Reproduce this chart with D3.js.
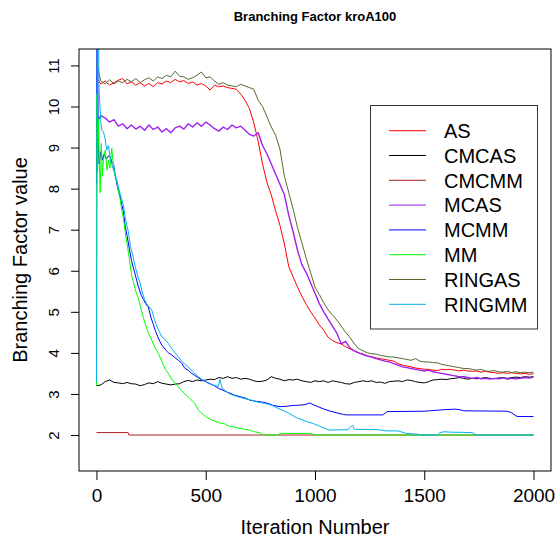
<!DOCTYPE html>
<html lang="en">
<head>
<meta charset="UTF-8">
<title>Branching Factor kroA100</title>
<script src="https://d3js.org/d3.v7.min.js"></script>
<style>
    body { margin: 0; background: #fff; }
    svg { font-family: "Liberation Sans", Arial, sans-serif; }
</style>
</head>
<body>
<svg id="chart" width="560" height="540"></svg>
<script>
    // Data
    const seriesNames = ['AS', 'CMCAS', 'CMCMM', 'MCAS', 'MCMM', 'MM', 'RINGAS', 'RINGMM'];
    const seriesColors = ['#ff0000', '#000000', '#b22222', '#a020f0', '#0000ff', '#00ff00', '#556b2f', '#00b2ee'];

    const xTicks = [0, 500, 1000, 1500, 2000];
    const yTicks = [2, 3, 4, 5, 6, 7, 8, 9, 10, 11];

    // sampling grid for the noisy series
    const iterGrid = [
        0, 20, 40, 60, 80, 100, 120, 140, 160, 180,
        200, 220, 240, 260, 280, 300, 320, 340, 360, 380,
        400, 420, 440, 460, 480, 500, 520, 540, 560, 580,
        600, 620, 640, 660, 680, 700, 720, 740, 760, 780,
        800, 820, 840, 860, 880, 900, 920, 940, 960, 980,
        1000, 1020, 1040, 1060, 1080, 1100, 1120, 1140, 1160, 1180,
        1200, 1220, 1240, 1260, 1280, 1300, 1320, 1340, 1360, 1380,
        1400, 1420, 1440, 1460, 1480, 1500, 1520, 1540, 1560, 1580,
        1600, 1620, 1640, 1660, 1680, 1700, 1720, 1740, 1760, 1780,
        1800, 1820, 1840, 1860, 1880, 1900, 1920, 1940, 1960, 1980,
        2000
    ];

    const asValues = [
        10.70, 10.55, 10.62, 10.52, 10.58, 10.64, 10.68, 10.55, 10.60, 10.52,
        10.58, 10.50, 10.56, 10.48, 10.58, 10.55, 10.62, 10.58, 10.66, 10.60,
        10.63, 10.56, 10.60, 10.52, 10.56, 10.50, 10.40, 10.52, 10.48, 10.50,
        10.46, 10.44, 10.42, 10.30, 10.15, 9.95, 9.60, 9.15, 8.60, 8.15,
        7.85, 7.45, 7.10, 6.65, 6.10, 5.85, 5.60, 5.38, 5.18, 5.00,
        4.85, 4.68, 4.55, 4.38, 4.30, 4.25, 4.22, 4.15, 4.10, 4.05,
        4.00, 3.97, 3.93, 3.90, 3.88, 3.86, 3.84, 3.82, 3.80, 3.74,
        3.70, 3.68, 3.66, 3.63, 3.62, 3.60, 3.60, 3.58, 3.57, 3.60,
        3.59, 3.60, 3.58, 3.56, 3.58, 3.56, 3.55, 3.56, 3.53, 3.55,
        3.53, 3.52, 3.50, 3.52, 3.50, 3.52, 3.50, 3.49, 3.50, 3.48,
        3.49
    ];

    const cmcasValues = [
        3.20, 3.22, 3.30, 3.34, 3.28, 3.27, 3.25, 3.28, 3.25, 3.24,
        3.20, 3.23, 3.27, 3.25, 3.30, 3.26, 3.24, 3.22, 3.24, 3.25,
        3.30, 3.33, 3.30, 3.34, 3.32, 3.34, 3.36, 3.35, 3.40, 3.38,
        3.42, 3.38, 3.40, 3.36, 3.38, 3.36, 3.32, 3.30, 3.31, 3.34,
        3.42, 3.38, 3.36, 3.32, 3.35, 3.34, 3.36, 3.32, 3.30, 3.28,
        3.32, 3.30, 3.32, 3.28, 3.32, 3.30, 3.28, 3.25, 3.24, 3.28,
        3.30, 3.32, 3.30, 3.32, 3.28, 3.29, 3.26, 3.30, 3.31, 3.32,
        3.30, 3.34, 3.33, 3.30, 3.28, 3.27, 3.30, 3.34, 3.35, 3.36,
        3.35, 3.37, 3.38, 3.40, 3.38, 3.36, 3.38, 3.37, 3.38, 3.40,
        3.38, 3.37, 3.39, 3.40, 3.38, 3.40, 3.41, 3.40, 3.42, 3.41,
        3.42
    ];

    const mcasValues = [
        9.60, 9.78, 9.72, 9.62, 9.68, 9.52, 9.58, 9.46, 9.55, 9.45,
        9.52, 9.42, 9.55, 9.44, 9.50, 9.38, 9.46, 9.36, 9.48, 9.52,
        9.45, 9.58, 9.50, 9.60, 9.52, 9.62, 9.55, 9.46, 9.40, 9.50,
        9.44, 9.55, 9.48, 9.52, 9.42, 9.32, 9.28, 9.36, 9.05, 8.85,
        8.60, 8.35, 8.10, 7.85, 7.35, 6.95, 6.50, 6.15, 5.95, 5.70,
        5.45, 5.20, 5.00, 4.82, 4.65, 4.48, 4.22, 4.28, 4.12, 4.05,
        4.00, 3.96, 3.92, 3.90, 3.86, 3.83, 3.80, 3.78, 3.74, 3.70,
        3.66, 3.64, 3.62, 3.60, 3.58, 3.56, 3.58, 3.54, 3.52, 3.50,
        3.48, 3.46, 3.44, 3.42, 3.42, 3.40, 3.38, 3.40, 3.37, 3.38,
        3.36, 3.38, 3.37, 3.39, 3.36, 3.38, 3.37, 3.38, 3.40, 3.39,
        3.41
    ];

    const ringasValues = [
        11.05, 10.62, 10.55, 10.65, 10.55, 10.62, 10.58, 10.66, 10.60, 10.68,
        10.58, 10.65, 10.70, 10.62, 10.72, 10.68, 10.76, 10.72, 10.86, 10.74,
        10.72, 10.66, 10.70, 10.76, 10.84, 10.70, 10.72, 10.62, 10.54, 10.58,
        10.52, 10.50, 10.48, 10.54, 10.50, 10.46, 10.42, 10.15, 10.00, 9.75,
        9.50, 9.30, 8.95, 8.30, 7.90, 7.50, 7.05, 6.68, 6.30, 5.95,
        5.60, 5.42, 5.22, 5.05, 4.92, 4.80, 4.65, 4.50, 4.38, 4.22,
        4.10, 4.05, 4.00, 3.98, 3.97, 3.94, 3.92, 3.90, 3.90, 3.88,
        3.86, 3.84, 3.82, 3.86, 3.80, 3.78, 3.78, 3.76, 3.76, 3.72,
        3.70, 3.68, 3.66, 3.64, 3.62, 3.62, 3.60, 3.58, 3.60, 3.56,
        3.55, 3.57, 3.54, 3.53, 3.55, 3.52, 3.54, 3.52, 3.53, 3.52,
        3.53
    ];

    // series with their own iteration points
    const cmcmmIters = [0, 145, 148, 2000];
    const cmcmmValues = [2.06, 2.06, 2.00, 2.00];

    const mcmmIters = [
        0, 2, 5, 8, 12, 20, 28, 35, 45, 55, 63, 70, 78, 85, 93, 100, 108, 115, 123, 131,
        140, 150, 160, 170, 180, 192, 205, 215, 225, 237, 250, 260, 268, 280, 290, 299, 310, 320, 330, 344,
        360, 375, 390, 405, 420, 436, 450, 465, 481, 500, 520, 540, 557, 575, 595, 610, 633, 660, 680, 702,
        730, 760, 785, 810, 840, 870, 900, 940, 960, 976, 1000, 1037, 1070, 1100, 1130, 1143, 1310, 1326, 1330, 1500,
        1524, 1600, 1640, 1660, 1680, 1880, 1900, 1925, 2000
    ];
    const mcmmValues = [
        8.10, 11.8, 11.8, 9.20, 8.60, 8.90, 8.70, 8.85, 8.72, 8.80, 8.78, 8.65, 8.60, 8.35, 8.13, 7.95, 7.80, 7.62, 7.45, 7.10,
        6.85, 6.55, 6.25, 6.05, 5.85, 5.61, 5.40, 5.30, 5.20, 5.12, 4.85, 4.70, 4.56, 4.40, 4.28, 4.19, 4.12, 4.05, 4.00, 3.95,
        3.88, 3.82, 3.75, 3.62, 3.58, 3.50, 3.45, 3.40, 3.34, 3.30, 3.25, 3.20, 3.14, 3.10, 3.05, 3.02, 2.97, 2.93, 2.90, 2.85,
        2.82, 2.80, 2.77, 2.72, 2.69, 2.70, 2.72, 2.73, 2.75, 2.78, 2.72, 2.64, 2.58, 2.54, 2.50, 2.49, 2.49, 2.55, 2.57, 2.58,
        2.59, 2.62, 2.63, 2.62, 2.59, 2.58, 2.54, 2.45, 2.45
    ];

    const mmIters = [
        0, 2, 5, 9, 13, 17, 22, 27, 32, 40, 48, 55, 62, 70, 78, 85, 93, 100, 108, 115,
        123, 131, 139, 150, 162, 170, 180, 192, 205, 215, 222, 237, 253, 270, 283, 300, 315, 329, 345, 360,
        374, 390, 405, 420, 435, 450, 465, 481, 500, 527, 560, 588, 603, 640, 679, 700, 724, 750, 763, 835,
        838, 986, 990, 2000
    ];
    const mmValues = [
        3.20, 10.3, 8.40, 9.70, 8.60, 7.90, 9.10, 8.30, 8.70, 8.94, 8.45, 8.70, 8.50, 8.98, 8.55, 8.30, 8.20, 7.95, 7.75, 7.50,
        7.30, 6.95, 6.70, 6.30, 5.85, 5.70, 5.50, 5.33, 5.05, 4.85, 4.72, 4.50, 4.31, 4.10, 3.99, 3.78, 3.60, 3.50, 3.35, 3.26,
        3.18, 3.08, 3.00, 2.93, 2.85, 2.77, 2.62, 2.53, 2.45, 2.37, 2.30, 2.27, 2.22, 2.18, 2.14, 2.12, 2.08, 2.05, 2.00, 2.00,
        2.04, 2.04, 2.00, 2.00
    ];

    const ringmmIters = [
        0, 4, 9, 12, 16, 20, 25, 32, 40, 47, 55, 63, 70, 78, 85, 93, 100, 108, 116, 123,
        131, 139, 146, 155, 165, 177, 190, 200, 207, 220, 230, 240, 253, 265, 280, 299, 310, 329, 345, 360,
        374, 390, 405, 420, 440, 466, 490, 511, 530, 545, 557, 565, 575, 590, 603, 625, 648, 670, 690, 709,
        740, 770, 800, 831, 862, 890, 915, 938, 960, 992, 1020, 1045, 1067, 1150, 1165, 1172, 1180, 1290, 1326, 1380,
        1417, 1470, 1478, 1560, 1570, 1590, 1620, 1720, 1737, 2000
    ];
    const ringmmValues = [
        3.30, 11.8, 11.8, 10.4, 10.0, 9.60, 9.42, 9.38, 9.20, 8.94, 9.05, 8.70, 8.60, 8.45, 8.35, 8.20, 8.05, 7.88, 7.72, 7.60,
        7.30, 7.10, 6.95, 6.60, 6.40, 6.10, 5.85, 5.70, 5.53, 5.30, 5.20, 5.12, 5.04, 4.82, 4.60, 4.39, 4.35, 4.23, 4.10, 4.00,
        3.91, 3.80, 3.72, 3.66, 3.55, 3.42, 3.33, 3.26, 3.22, 3.20, 3.18, 3.35, 3.14, 3.08, 3.02, 2.97, 2.93, 2.90, 2.87, 2.85,
        2.80, 2.77, 2.73, 2.65, 2.58, 2.50, 2.42, 2.38, 2.33, 2.28, 2.22, 2.16, 2.12, 2.13, 2.20, 2.24, 2.14, 2.13, 2.10, 2.10,
        2.04, 2.02, 2.00, 2.00, 2.05, 2.08, 2.07, 2.06, 2.00, 2.00
    ];

    const seriesIters = [iterGrid, iterGrid, cmcmmIters, iterGrid, mcmmIters, mmIters, iterGrid, ringmmIters];
    const seriesValues = [asValues, cmcasValues, cmcmmValues, mcasValues, mcmmValues, mmValues, ringasValues, ringmmValues];

    const svg = d3.select('#chart');
    const plot = { left: 79, top: 49, right: 551, bottom: 471 };

    const x = d3.scaleLinear().domain([-80, 2080]).range([plot.left, plot.right]);
    const y = d3.scaleLinear().domain([1.124, 11.4]).range([plot.bottom, plot.top]);

    svg.append('rect').attr('width', 560).attr('height', 540).attr('fill', '#fff');

    svg.append('clipPath').attr('id', 'plotClip')
        .append('rect')
        .attr('x', plot.left).attr('y', plot.top)
        .attr('width', plot.right - plot.left).attr('height', plot.bottom - plot.top);

    // lines
    const line = d3.line().x(d => x(d[0])).y(d => y(d[1]));
    const lines = svg.append('g').attr('clip-path', 'url(#plotClip)');
    seriesNames.forEach((name, i) => {
        const pts = seriesIters[i].map((it, j) => [it, seriesValues[i][j]]);
        lines.append('path')
            .datum(pts)
            .attr('fill', 'none')
            .attr('stroke', seriesColors[i])
            .attr('stroke-width', name === 'MCAS' ? 1.4 : 1)
            .attr('stroke-linejoin', 'round')
            .attr('d', line);
    });

    // box
    svg.append('rect')
        .attr('x', plot.left).attr('y', plot.top)
        .attr('width', plot.right - plot.left).attr('height', plot.bottom - plot.top)
        .attr('fill', 'none').attr('stroke', '#000').attr('stroke-width', 1);

    // x axis
    const xAxis = svg.append('g')
        .attr('transform', `translate(0,${plot.bottom})`)
        .call(d3.axisBottom(x).tickValues(xTicks).tickSize(9).tickFormat(d3.format('d')));
    xAxis.select('.domain').remove();
    xAxis.selectAll('line').attr('stroke', '#000');
    xAxis.selectAll('text')
        .attr('y', 30.5).attr('dy', 0)
        .attr('font-size', '19px').attr('fill', '#000')
        .attr('font-family', '"Liberation Sans", Arial, sans-serif');

    // y axis
    const yAxis = svg.append('g')
        .attr('transform', `translate(${plot.left},0)`)
        .call(d3.axisLeft(y).tickValues(yTicks).tickSize(8));
    yAxis.select('.domain').remove();
    yAxis.selectAll('line').attr('stroke', '#000');
    yAxis.selectAll('text')
        .attr('transform', 'rotate(-90)')
        .attr('x', 0).attr('y', -20.5).attr('dy', 0)
        .attr('text-anchor', 'middle')
        .attr('font-size', '15px').attr('fill', '#000')
        .attr('font-family', '"Liberation Sans", Arial, sans-serif');

    // titles
    svg.append('text')
        .attr('x', (plot.left + plot.right) / 2).attr('y', 21)
        .attr('text-anchor', 'middle')
        .attr('font-size', '13px').attr('font-weight', 'bold')
        .text('Branching Factor kroA100');

    svg.append('text')
        .attr('x', (plot.left + plot.right) / 2).attr('y', 534)
        .attr('text-anchor', 'middle')
        .attr('font-size', '20px')
        .text('Iteration Number');

    svg.append('text')
        .attr('transform', `translate(27,${(plot.top + plot.bottom) / 2}) rotate(-90)`)
        .attr('text-anchor', 'middle')
        .attr('font-size', '20px')
        .text('Branching Factor value');

    // legend
    const legend = svg.append('g');
    legend.append('rect')
        .attr('x', 370.5).attr('y', 105.5)
        .attr('width', 167).attr('height', 223.5)
        .attr('fill', '#fff').attr('stroke', '#333').attr('stroke-width', 1);

    seriesNames.forEach((name, i) => {
        const ly = 130.7 + i * 24.8;
        legend.append('line')
            .attr('x1', 389).attr('x2', 426)
            .attr('y1', ly).attr('y2', ly)
            .attr('stroke', seriesColors[i]).attr('stroke-width', 1);
        legend.append('text')
            .attr('x', 444).attr('y', ly).attr('dy', '0.36em')
            .attr('font-size', '20px')
            .text(name);
    });
</script>
</body>
</html>
